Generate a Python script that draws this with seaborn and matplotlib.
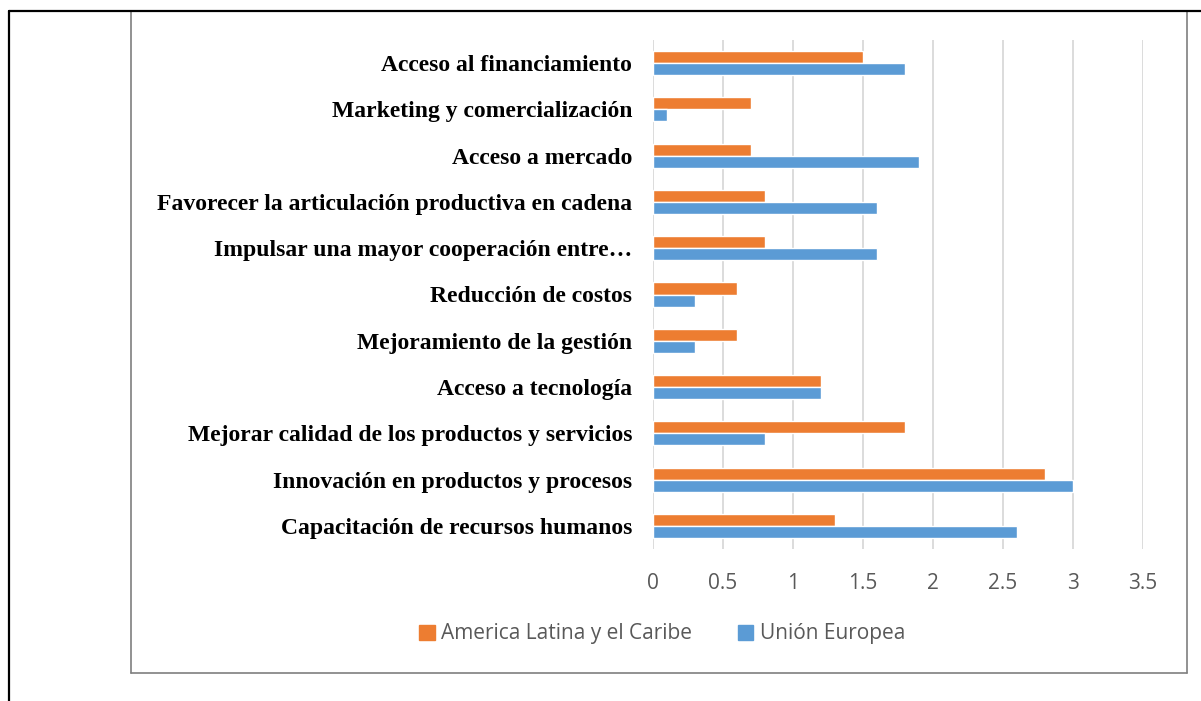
import pandas as pd
import matplotlib.pyplot as plt
import seaborn as sns
from matplotlib.lines import Line2D
from matplotlib.patches import Patch

# data
categories = [
    "Acceso al financiamiento",
    "Marketing y comercialización",
    "Acceso a mercado",
    "Favorecer la articulación productiva en cadena",
    "Impulsar una mayor cooperación entre…",
    "Reducción de costos",
    "Mejoramiento de la gestión",
    "Acceso a tecnología",
    "Mejorar calidad de los productos y servicios",
    "Innovación en productos y procesos",
    "Capacitación de recursos humanos",
]
america_latina = [1.5, 0.7, 0.7, 0.8, 0.8, 0.6, 0.6, 1.2, 1.8, 2.8, 1.3]
union_europea = [1.8, 0.1, 1.9, 1.6, 1.6, 0.3, 0.3, 1.2, 0.8, 3.0, 2.6]
series_names = ["America Latina y el Caribe", "Unión Europea"]
xticks = [0, 0.5, 1, 1.5, 2, 2.5, 3, 3.5]

df = pd.DataFrame({
    "categoria": categories * 2,
    "valor": america_latina + union_europea,
    "serie": [series_names[0]] * len(categories) + [series_names[1]] * len(categories),
})

colors = {series_names[0]: "#ED7D31", series_names[1]: "#5B9BD5"}

sns.set_theme(style="white")
plt.rcParams["font.family"] = ["Open Sans", "DejaVu Sans"]

fig = plt.figure(figsize=(12.01, 7.01), dpi=100)
ax = fig.add_axes([653 / 1201, 1 - 549 / 701, 490 / 1201, 509 / 701])

sns.barplot(data=df, y="categoria", x="valor", hue="serie", order=categories,
            hue_order=series_names, palette=colors, orient="h", width=0.52,
            saturation=1, ax=ax, legend=False)

ax.set_xlim(0, 3.5)
ax.set_xticks(xticks)
ax.set_xticklabels([f"{t:g}" for t in xticks])
ax.xaxis.grid(True, color="#D9D9D9", linewidth=1.3)
ax.set_axisbelow(True)
for s in ax.spines.values():
    s.set_visible(False)
ax.set_xlabel("")
ax.set_ylabel("")
ax.tick_params(axis="x", length=0, pad=17, labelsize=15, labelcolor="#595959")
ax.tick_params(axis="y", length=0, pad=15)
for lab in ax.get_yticklabels():
    lab.set_fontfamily(["Liberation Serif", "DejaVu Serif"])
    lab.set_fontweight("bold")
    lab.set_fontsize(17)
    lab.set_color("black")

handles = [Patch(color=colors[n]) for n in series_names]
fig.legend(handles, series_names, loc="center", bbox_to_anchor=(662 / 1201, 1 - 634 / 701),
           ncol=2, frameon=False, fontsize=15, handlelength=0.75, handleheight=0.75,
           columnspacing=2.2, handletextpad=0.3, labelcolor="#595959")

# frames
W, H = 1201, 701
def line(x0, y0, x1, y1, color, lw):
    fig.add_artist(Line2D([x0 / W, x1 / W], [1 - y0 / H, 1 - y1 / H],
                          transform=fig.transFigure, color=color, linewidth=lw))

line(131, 11, 131, 673, "#7F7F7F", 1.2)
line(1187, 11, 1187, 673, "#7F7F7F", 1.2)
line(131, 673, 1187, 673, "#7F7F7F", 1.2)
line(9, 11, 1201, 11, "black", 1.6)
line(9, 11, 9, 701, "black", 1.6)

fig.savefig("out.png", dpi=100)
